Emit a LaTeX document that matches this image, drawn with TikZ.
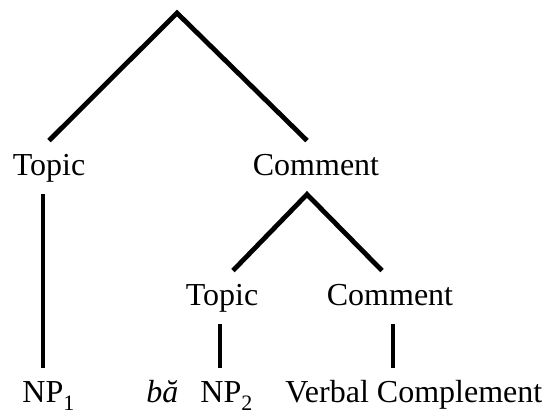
\documentclass[tikz,border=0pt]{standalone}
\usepackage{fontspec}
\setmainfont{Liberation Serif}
\newcommand{\lowsub}[1]{\raisebox{-0.28em}{\fontsize{11}{13}\selectfont #1}}

\begin{document}
\begin{tikzpicture}[x=0.5pt, y=-0.5pt,
    word/.style={font=\fontsize{16}{19}\selectfont, inner xsep=0pt, inner ysep=6pt,
        text height=11pt, text depth=3.5pt},
    branch/.style={line width=2.4pt, line join=miter},
    stem/.style={line width=1.7pt}]
    % Frame - 552 x 413 px
    \useasboundingbox (0,0) rectangle (552,413);

    % Top level
    \coordinate (root) at (177,13);
    \node[word, anchor=base] (topicA) at (49,175) {Topic};
    \node[word, anchor=base] (commentA) at (316,175) {Comment};

    % Embedded topic-comment
    \node[word, anchor=base] (topicB) at (222,305) {Topic};
    \node[word, anchor=base] (commentB) at (390,305) {Comment};

    % Bottom row
    \node[word, anchor=base west] (npA) at (22,402) {NP\lowsub{1}};
    \node[word, anchor=base west] (ba) at (146,402) {\textit{bă}};
    \node[word, anchor=base west] (npB) at (200,402) {NP\lowsub{2}};
    \node[word, anchor=base west] (verbal) at (285,402) {Verbal Complement};

    % Branches
    \draw[branch] (topicA.north) -- (root) -- ([xshift=-4.5pt]commentA.north);
    \draw[branch] ([xshift=5.5pt]topicB.north) -- ([xshift=-4.5pt]commentA.south)
        -- ([xshift=-4pt]commentB.north);

    % Stems
    \draw[stem] ([xshift=-3pt]topicA.south) -- ([xshift=-3pt]topicA.south |- npA.north);
    \draw[stem] ([xshift=-1pt]topicB.south) -- ([xshift=-1pt]topicB.south |- npB.north);
    \draw[stem] ([xshift=1.5pt]commentB.south) -- ([xshift=1.5pt]commentB.south |- verbal.north);

\end{tikzpicture}
\end{document}
